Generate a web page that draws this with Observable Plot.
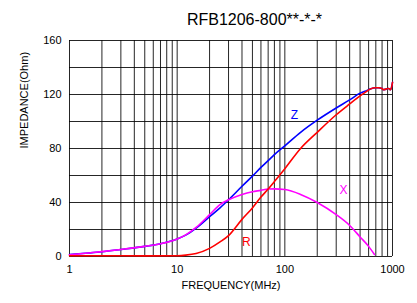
<!DOCTYPE html>
<html><head><meta charset="utf-8">
<script src="https://cdn.jsdelivr.net/npm/d3@7"></script>
<script src="https://cdn.jsdelivr.net/npm/@observablehq/plot@0.6"></script>
<style>body{margin:0;background:#fff;} svg{font-family:"Liberation Sans",Arial,sans-serif;}</style>
</head><body><div id="chart"></div>
<script>
const title = "RFB1206-800**-*-*";
const xLabel = "FREQUENCY(MHz)";
const yLabel = "IMPEDANCE(Ohm)";
const xTicks = [1, 10, 100, 1000];
const yTicks = [0, 40, 80, 120, 160];
const xGrid = [1,2,3,4,5,6,7,8,9,10,20,30,40,50,60,70,80,90,100,200,300,400,500,600,700,800,900,1000];
const yGrid = [0,20,40,60,80,100,120,140,160];

const zFreq = [1, 1.5, 2, 3, 5, 7, 10, 12, 15, 20, 25, 30, 40, 50, 60, 70, 80, 100, 140, 200, 300, 400, 500, 580, 620, 700, 740, 800, 820, 870, 920, 960, 1000];
const zVal  = [1.5, 2.6, 3.5, 5.2, 7.5, 9.5, 13, 15.8, 21, 29.5, 36, 42, 52, 59.5, 66, 71, 75.5, 82, 92, 101, 110, 116, 121, 123, 124, 125, 125, 124.5, 123.5, 124, 124.5, 123.5, 129];

const rFreq = [1, 2, 5, 10, 12, 15, 20, 25, 30, 40, 50, 60, 70, 80, 100, 140, 200, 300, 400, 500, 580, 620, 700, 740, 800, 820, 870, 920, 960, 1000];
const rVal  = [0.5, 0.6, 0.5, 0.6, 1, 2.2, 6, 10.8, 15.5, 27.5, 36, 44, 50, 55.5, 65, 80, 92, 105, 113, 119, 122.5, 124, 125, 125, 124.5, 123.5, 124, 124.5, 123.5, 129];

const xFreq = [1, 1.5, 2, 3, 5, 7, 10, 12, 15, 20, 25, 30, 40, 50, 60, 70, 80, 100, 140, 200, 300, 400, 500, 600, 680];
const xVal  = [1.2, 2.6, 3.6, 5.2, 7.5, 9.4, 13, 16, 21.5, 31, 38.5, 42, 46, 48, 49, 50, 50.1, 49.6, 46, 40, 31, 23, 14.5, 7.5, 1.5];

const seriesLabels = ["Z", "X", "R"];
const labelFreq = [123, 350, 44];
const labelVal = [104.5, 49, 10.5];
const colors = ["#0000ff", "#ff00ff", "#ff0000"];

const toRows = (f, v) => f.map((d, i) => ({f: d, v: v[i]}));
const labels = seriesLabels.map((s, i) => ({s, f: labelFreq[i], v: labelVal[i], c: colors[i]}));

const chart = Plot.plot({
  width: 417, height: 303,
  marginLeft: 69, marginRight: 25, marginTop: 40, marginBottom: 47,
  style: {fontFamily: "Liberation Sans, Arial, sans-serif", fontSize: "11px", color: "#000", background: "#fff"},
  x: {type: "log", domain: [1, 1000]},
  y: {domain: [0, 160]},
  marks: [
    Plot.ruleX(xGrid, {x: d => d, stroke: "#000", strokeOpacity: 0.85, strokeWidth: 1}),
    Plot.ruleY(yGrid, {y: d => d, stroke: "#000", strokeOpacity: 0.85, strokeWidth: 1}),
    Plot.axisX(xTicks, {tickSize: 0, tickPadding: 9, tickFormat: d => String(d), label: null, fontSize: 11}),
    Plot.axisY(yTicks, {tickSize: 0, tickPadding: 8, label: null, fontSize: 11}),
    Plot.line(toRows(zFreq, zVal), {x: "f", y: "v", stroke: colors[0], strokeWidth: 1.6, curve: "monotone-x"}),
    Plot.line(toRows(xFreq, xVal), {x: "f", y: "v", stroke: colors[1], strokeWidth: 1.6, curve: "monotone-x"}),
    Plot.line(toRows(rFreq, rVal), {x: "f", y: "v", stroke: colors[2], strokeWidth: 1.6, curve: "monotone-x"}),
    Plot.text(labels, {x: "f", y: "v", text: "s", fill: d => d.c, fontSize: 12}),
    Plot.text([title], {frameAnchor: "top", dx: 23.5, dy: -27, fontSize: 16, fill: "#000"}),
    Plot.text([xLabel], {frameAnchor: "bottom", dy: 32, fontSize: 11, fill: "#000"}),
    Plot.text([yLabel], {frameAnchor: "left", dx: -45, rotate: -90, fontSize: 11, fill: "#000"})
  ]
});
document.getElementById("chart").append(chart);
</script></body></html>
